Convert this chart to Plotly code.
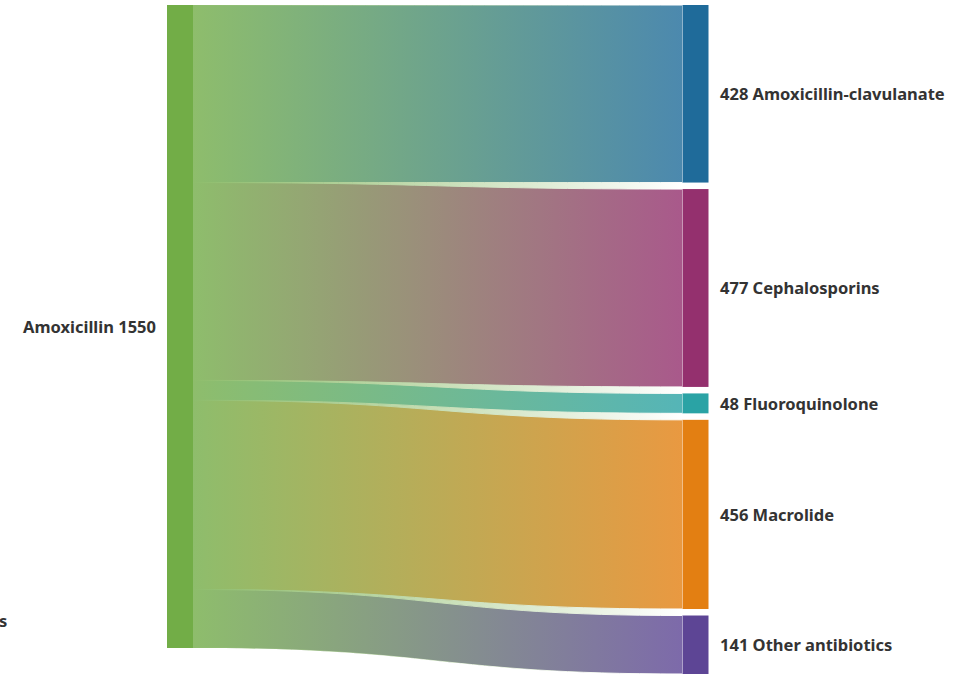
import base64
import plotly.graph_objects as go

# ---- data ----
source_name = "Amoxicillin"
target_names = ["Amoxicillin-clavulanate", "Cephalosporins", "Fluoroquinolone",
                "Macrolide", "Other antibiotics"]
target_values = [428, 477, 48, 456, 141]
source_color = "#72ad47"
target_colors = ["#1f6b9a", "#94306e", "#2aa3a5", "#e37f12", "#5d4595"]
left_fragment = "s"  # cut-off label from a previous column

# ---- layout constants ----
W, H_FIG = 968, 674
M_TOP = 5
H = H_FIG - M_TOP          # plot-area height
PAD = 6.5
THICK = 26
SRC_CX = 180               # px centre of source column
TGT_CX = 695.5             # px centre of target column

total = sum(target_values)
ky = (H - PAD * (len(target_values) - 1)) / total

# node centres (fractions of the plot area, y from top)
src_h = total * ky
node_x = [SRC_CX / W] + [TGT_CX / W] * len(target_values)
node_y = [(src_h / 2) / H]
cum = 0.0
tgt_centers = []
for v in target_values:
    h = v * ky
    tgt_centers.append((cum + h / 2) / H)
    cum += h + PAD
tgt_bottom = cum - PAD
node_y += tgt_centers


def rgba(hexc, a):
    hexc = hexc.lstrip("#")
    r, g, b = int(hexc[0:2], 16), int(hexc[2:4], 16), int(hexc[4:6], 16)
    return f"rgba({r},{g},{b},{a})"


fig = go.Figure(go.Sankey(
    arrangement="fixed",
    domain=dict(x=[0, 1], y=[0, 1]),
    node=dict(
        label=[""] * (1 + len(target_names)),
        color=[source_color] + target_colors,
        line=dict(width=0),
        thickness=THICK,
        pad=PAD,
        x=node_x,
        y=node_y,
    ),
    link=dict(
        source=[0] * len(target_values),
        target=list(range(1, len(target_values) + 1)),
        value=target_values,
        color=[rgba(c, 0.8) for c in target_colors],
        line=dict(color="white", width=1),
    ),
    textfont=dict(color="rgba(0,0,0,0)"),
))

# gradient overlay: links fade from the source green (left) into their target colour
ov_w = (TGT_CX - THICK / 2) - (SRC_CX + THICK / 2)
ov_h = tgt_bottom
mid = ov_w / 2
svg = ("<svg xmlns='http://www.w3.org/2000/svg' "
       f"width='{ov_w:.1f}' height='{ov_h:.1f}' viewBox='0 0 {ov_w:.2f} {ov_h:.2f}' "
       "preserveAspectRatio='none'><defs>"
       "<linearGradient id='g' x1='0' y1='0' x2='1' y2='0'>"
       "<stop offset='0' stop-color='#8ebd6c' stop-opacity='1'/>"
       "<stop offset='1' stop-color='#8ebd6c' stop-opacity='0'/>"
       "</linearGradient></defs>"
       f"<path d='M0,0 L{ov_w:.2f},0 L{ov_w:.2f},{ov_h:.2f} "
       f"C{mid:.2f},{ov_h:.2f} {mid:.2f},{src_h:.2f} 0,{src_h:.2f} Z' fill='url(#g)'/></svg>")
uri = "data:image/svg+xml;base64," + base64.b64encode(svg.encode()).decode()

ov_x0 = (SRC_CX + THICK / 2) / W
fig.add_layout_image(dict(
    source=uri, xref="paper", yref="paper",
    x=ov_x0, y=1, sizex=ov_w / W, sizey=ov_h / H,
    xanchor="left", yanchor="top", sizing="stretch", layer="above", opacity=1,
))

font = dict(family="Noto Sans", size=16.5, color="#333333", weight=700)
annotations = [dict(
    text=f"{source_name} {total}", x=(SRC_CX - THICK / 2 - 9) / W,
    y=1 - node_y[0], xref="paper", yref="paper", xanchor="right",
    yanchor="middle", showarrow=False, font=font)]
for name, v, cy in zip(target_names, target_values, tgt_centers):
    annotations.append(dict(
        text=f"{v} {name}", x=(TGT_CX + THICK / 2 + 9) / W, y=1 - cy,
        xref="paper", yref="paper", xanchor="left", yanchor="middle",
        showarrow=False, font=font))
annotations.append(dict(
    text=left_fragment, x=0, y=1 - (620 - M_TOP) / H, xref="paper", yref="paper",
    xanchor="left", yanchor="middle", xshift=-3, showarrow=False, font=font))

fig.update_layout(
    width=W, height=H_FIG,
    margin=dict(l=0, r=0, t=M_TOP, b=0),
    paper_bgcolor="white", plot_bgcolor="white",
    annotations=annotations,
    showlegend=False,
)

fig.write_html("out.html", config={"displayModeBar": False},
               post_script="document.body.style.margin='0';")
